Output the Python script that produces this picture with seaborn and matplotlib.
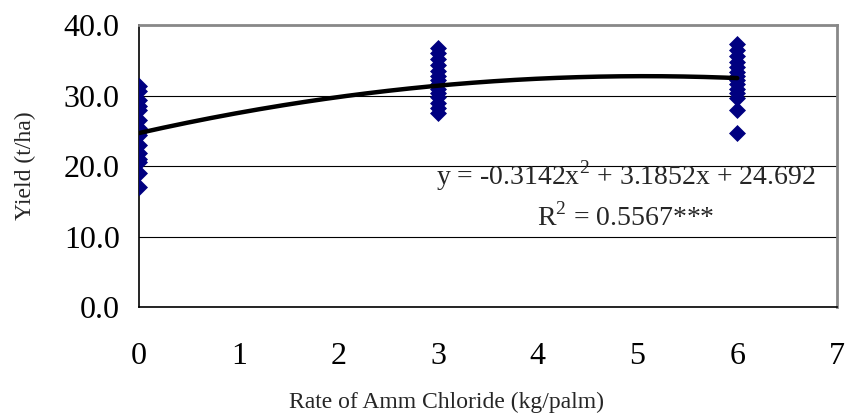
import numpy as np
import pandas as pd
import matplotlib
matplotlib.use("Agg")
import matplotlib.pyplot as plt
import seaborn as sns

# Data
yield_rate0 = [31.3, 30.6, 29.4, 28.6, 27.9, 26.5, 25.4, 24.8, 24.4, 23.0, 21.8, 21.0, 20.6, 19.0, 17.0]
yield_rate3 = [36.8, 36.0, 35.2, 34.3, 33.5, 32.8, 32.2, 31.6, 31.0, 30.4, 29.8, 29.0, 28.3, 27.5]
yield_rate6 = [37.4, 36.5, 35.6, 34.8, 34.0, 33.4, 32.8, 32.2, 31.6, 31.0, 30.4, 29.6, 27.9, 24.7]
rates = [0, 3, 6]
trend_coef = [-0.3142, 3.1852, 24.692]  # quadratic trend from the chart label
y_ticks = [0, 10, 20, 30, 40]
x_ticks = [0, 1, 2, 3, 4, 5, 6, 7]
eq_text = "y = -0.3142x$^2$ + 3.1852x + 24.692"
r2_text = "R$^2$ = 0.5567***"

df = pd.DataFrame({
    "rate": [0] * len(yield_rate0) + [3] * len(yield_rate3) + [6] * len(yield_rate6),
    "yield": yield_rate0 + yield_rate3 + yield_rate6,
})
xs = np.linspace(rates[0], rates[-1], 200)
trend = pd.DataFrame({"rate": xs, "yield": np.polyval(trend_coef, xs)})

sns.set_theme(style="white")
plt.rcParams["font.family"] = ["Liberation Serif", "DejaVu Serif"]
plt.rcParams["mathtext.fontset"] = "custom"
plt.rcParams["mathtext.rm"] = "Liberation Serif"

fig = plt.figure(figsize=(8.48, 4.2), dpi=100)
ax = fig.add_axes([0.164, 0.269, 0.823, 0.671])

sns.scatterplot(data=df, x="rate", y="yield", marker="D", s=75, color="#000080",
                edgecolor="#000080", linewidth=0, ax=ax, zorder=3)
sns.lineplot(data=trend, x="rate", y="yield", color="black", linewidth=3.2, ax=ax, zorder=4)

ax.set_xlim(0, 7)
ax.set_ylim(0, 40)
ax.set_xticks(x_ticks)
ax.set_yticks(y_ticks)
ax.set_yticklabels([f"{v:.1f}" for v in y_ticks])
ax.tick_params(axis="both", labelsize=23, colors="black", direction="out", length=5, width=1)
ax.tick_params(axis="x", pad=20)
ax.tick_params(axis="y", pad=9)
ax.yaxis.grid(True, color="black", linewidth=0.8)
ax.set_axisbelow(True)

for s in ["left", "bottom"]:
    ax.spines[s].set_color("black")
    ax.spines[s].set_linewidth(1.2)
for s in ["top", "right"]:
    ax.spines[s].set_color("#888888")
    ax.spines[s].set_linewidth(2)

ax.set_xlabel("Rate of Amm Chloride (kg/palm)", fontsize=17)
ax.xaxis.set_label_coords(0.44, -0.30)
ax.set_ylabel("Yield (t/ha)", fontsize=17)
ax.yaxis.set_label_coords(-0.148, 0.5)

ax.text(4.88, 18.6, eq_text, fontsize=20, ha="center", va="center")
ax.text(4.88, 12.8, r2_text, fontsize=20, ha="center", va="center")

fig.savefig("out.png", dpi=100)
